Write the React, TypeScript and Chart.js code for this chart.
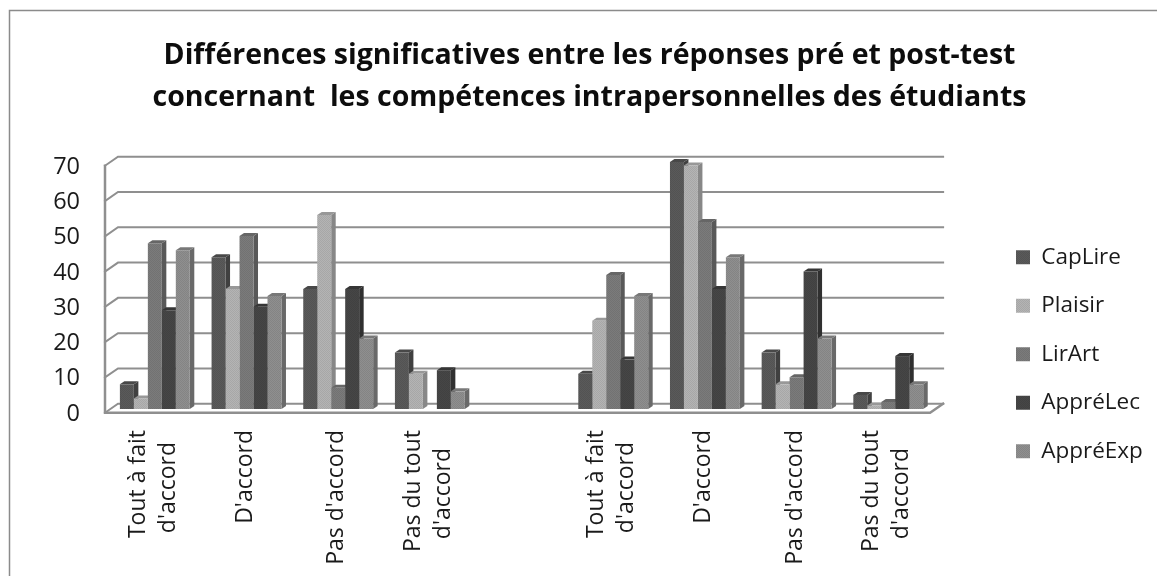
import React, { useEffect, useRef } from "react";
import { Chart, registerables } from "chart.js";

Chart.register(...registerables);

const categories: (string | string[])[] = [
  ["Tout à fait", "d'accord  "],
  "D'accord",
  "Pas d'accord",
  ["Pas du tout", "d'accord   "],
  "",
  ["Tout à fait", "d'accord  "],
  "D'accord",
  "Pas d'accord",
  ["Pas du tout", "d'accord   "],
];

const titleLines = [
  "Différences significatives entre les réponses pré et post-test",
  "concernant  les compétences intrapersonnelles des étudiants",
];

const capLire = [7, 43, 34, 16, null, 10, 70, 16, 4];
const plaisir = [3, 34, 55, 10, null, 25, 69, 7, 1];
const lirArt = [47, 49, 6, 0, null, 38, 53, 9, 2];
const appreLec = [28, 29, 34, 11, null, 14, 34, 39, 15];
const appreExp = [45, 32, 20, 5, null, 32, 43, 20, 7];

const seriesNames = ["CapLire", "Plaisir", "LirArt", "AppréLec", "AppréExp"];
const seriesValues = [capLire, plaisir, lirArt, appreLec, appreExp];
const frontColors = ["#5a5a5a", "#b4b4b4", "#7b7b7b", "#464646", "#8f8f8f"];
const sideColors = ["#404040", "#878787", "#595959", "#303030", "#696969"];
const topColors = ["#484848", "#989898", "#666666", "#363636", "#787878"];

const yTicksMax = 70;
const gridColor = "#8f8f8f";

function dither(color: string): CanvasPattern | string {
  const c = document.createElement("canvas");
  c.width = 2;
  c.height = 2;
  const g = c.getContext("2d");
  if (!g) return color;
  g.fillStyle = color;
  g.fillRect(0, 0, 2, 2);
  g.fillStyle = "rgba(0,0,0,0.07)";
  g.fillRect(0, 0, 1, 1);
  g.fillRect(1, 1, 1, 1);
  return g.createPattern(c, "repeat") || color;
}

const BAR_DX = 4.5;
const BAR_DY = 3;
const FRONT_DX = -4;
const FRONT_DY = 3.7;
const BACK_DX = 9;
const BACK_DY = -5.3;
const LABEL_LINE = 30;

const sceneryPlugin = {
  id: "scenery",
  beforeDraw(chart: any) {
    const { ctx, width, height, chartArea, scales } = chart;
    ctx.save();
    ctx.strokeStyle = "#8b8b8b";
    ctx.lineWidth = 1.5;
    ctx.strokeRect(9.5, 10.5, width + 10, height + 10);
    ctx.restore();
    // centre two-line category labels on their tick, as the reference does
    scales.x.getLabelItems(chartArea).forEach((item: any) => {
      if (Array.isArray(item.label) && !item.centred) {
        item.options.translation[0] -= LABEL_LINE / 2;
        item.centred = true;
      }
    });
  },
  afterLayout(chart: any) {
    const legend = chart.legend;
    if (legend) {
      legend.left = 990;
      legend.right = 990 + legend.width;
      legend.top = 220;
      legend.bottom = 220 + legend.height;
    }
    const title = chart.titleBlock;
    if (title) {
      title.left = 22;
      title.right = 1157;
    }
  },
  beforeDatasetsDraw(chart: any) {
    const { ctx, chartArea, scales } = chart;
    const y = scales.y;
    const l = chartArea.left;
    const r = chartArea.right;
    ctx.save();
    ctx.strokeStyle = gridColor;
    ctx.lineWidth = 2;
    ctx.lineCap = "square";
    for (let v = 0; v <= yTicksMax; v += 10) {
      const py = y.getPixelForValue(v);
      ctx.beginPath();
      ctx.moveTo(l + FRONT_DX, py + FRONT_DY);
      ctx.lineTo(l + BACK_DX, py + BACK_DY);
      ctx.lineTo(r + BACK_DX, py + BACK_DY);
      ctx.stroke();
    }
    const p0 = y.getPixelForValue(0);
    const p70 = y.getPixelForValue(yTicksMax);
    ctx.lineWidth = 2.5;
    ctx.beginPath();
    ctx.moveTo(l + FRONT_DX, p70 + FRONT_DY);
    ctx.lineTo(l + FRONT_DX, p0 + FRONT_DY);
    ctx.lineTo(r + FRONT_DX, p0 + FRONT_DY);
    ctx.lineTo(r + BACK_DX, p0 + BACK_DY);
    ctx.stroke();

    const count = categories.length;
    for (let i = 0; i < count; i++) {
      seriesValues.forEach((vals, d) => {
        const value = vals[i];
        if (!value) return;
        const bar: any = chart.getDatasetMeta(d).data[i];
        const left = bar.x - bar.width / 2;
        const right = bar.x + bar.width / 2;
        const top = bar.y;
        const base = bar.base;
        ctx.fillStyle = sideColors[d];
        ctx.beginPath();
        ctx.moveTo(right, top);
        ctx.lineTo(right + BAR_DX, top - BAR_DY);
        ctx.lineTo(right + BAR_DX, base - BAR_DY);
        ctx.lineTo(right, base);
        ctx.closePath();
        ctx.fill();
        ctx.fillStyle = topColors[d];
        ctx.beginPath();
        ctx.moveTo(left, top);
        ctx.lineTo(left + BAR_DX, top - BAR_DY);
        ctx.lineTo(right + BAR_DX, top - BAR_DY);
        ctx.lineTo(right, top);
        ctx.closePath();
        ctx.fill();
      });
    }
    ctx.restore();
  },
};

export default function App() {
  const ref = useRef<HTMLCanvasElement>(null);
  useEffect(() => {
    if (!ref.current) return;
    const font = "'Open Sans', sans-serif";
    const chart = new Chart(ref.current, {
      type: "bar",
      data: {
        labels: categories as any,
        datasets: seriesNames.map((name, d) => ({
          label: name,
          data: seriesValues[d] as any,
          backgroundColor: dither(frontColors[d]) as any,
          borderWidth: 0,
          categoryPercentage: 0.7625,
          barPercentage: 1,
        })),
      },
      plugins: [sceneryPlugin],
      options: {
        responsive: false,
        animation: false,
        color: "#1a1a1a",
        layout: { padding: { left: 22, right: 60, top: 35, bottom: 0 } },
        plugins: {
          tooltip: { enabled: false },
          title: {
            display: true,
            text: titleLines,
            color: "#0d0d0d",
            font: { family: font, size: 28.5, weight: "bold", lineHeight: 1.474 },
            padding: { top: 0, bottom: 43 },
          },
          legend: {
            position: "right",
            align: "start",
            labels: {
              boxWidth: 14,
              boxHeight: 14,
              padding: 26,
              color: "#1a1a1a",
              font: { family: font, size: 22.5 },
            },
          },
        },
        scales: {
          x: {
            grid: { display: false },
            border: { display: false },
            afterFit(scale: any) {
              scale.height = 167;
            },
            ticks: {
              autoSkip: false,
              minRotation: 90,
              maxRotation: 90,
              labelOffset: -1.5,
              padding: 13,
              color: "#1a1a1a",
              font: { family: font, size: 23, lineHeight: 1.304 },
            },
          },
          y: {
            min: 0,
            max: yTicksMax,
            grid: { display: false },
            border: { display: false },
            afterFit(scale: any) {
              scale.width = 87;
            },
            ticks: {
              stepSize: 10,
              padding: 21,
              labelOffset: 5,
              color: "#1a1a1a",
              font: { family: font, size: 23.5 },
            },
          },
        },
      },
    });
    return () => chart.destroy();
  }, []);
  return (
    <div style={{ position: "fixed", left: 0, top: 0, width: 1157, height: 576, background: "#fff" }}>
      <canvas ref={ref} width={1157} height={576} style={{ display: "block" }} />
    </div>
  );
}
